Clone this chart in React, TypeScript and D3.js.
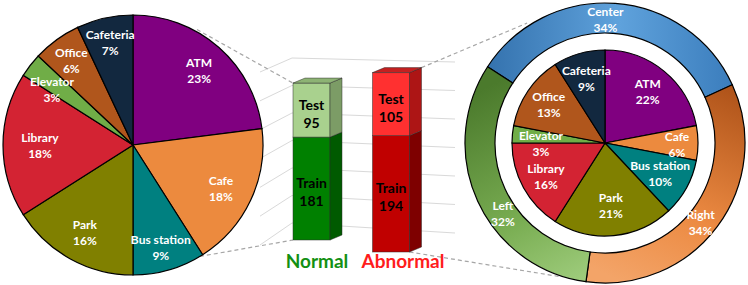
import React from 'react';
import * as d3 from 'd3';

// ---------- data ----------
const categories = ['ATM', 'Cafe', 'Bus station', 'Park', 'Library', 'Elevator', 'Office', 'Cafeteria'];
const normalShares = [23, 18, 9, 16, 18, 3, 6, 7];
const abnormalShares = [22, 6, 10, 21, 16, 3, 13, 9];
const positions = ['Center', 'Right', 'Left'];
const positionShares = [34, 34, 32];
const classes = ['Normal', 'Abnormal'];
const trainCounts = [181, 194];
const testCounts = [95, 105];
const stackNames = ['Train', 'Test'];
const gridTicks = [0, 50, 100, 150, 200, 250, 300];

// ---------- styles / label placement ----------
const catColors = ['#800080', '#ec8a3e', '#008080', '#808000', '#d32333', '#70ad47', '#b0561c', '#12283f'];
const trainFront = ['#008000', '#c00000'];
const trainSide = ['#005a00', '#7e0000'];
const testFront = ['#a9d18e', '#ff3030'];
const testSide = ['#7c9c66', '#ad1515'];
const testTop = ['#8db374', '#c42020'];
const classColors = ['#139013', '#ff1c1c'];
const FONT = 'Lato, "Open Sans", sans-serif';
const leftLabelR = [100, 98, 106, 100, 93, 98, 105, 105];
const leftLabelShift = [0, 1, 1, 0, 0, -3.6, 0, 0];
const rightLabelR = [67, 72, 63, 63, 68, 64, 68, 67];
const rightLabelShift = [0, 1, 0, 0, -1, -6, 0, 0];
const ringLabelShift = [-4, 3, -10];

const W = 748, H = 285;
const deg = Math.PI / 180;

function PieLabel({ x, y, name, value, size = 12 }: any) {
  return (
    <text textAnchor="middle" fill="#fff" fontWeight="bold" fontSize={size} fontFamily={FONT}>
      <tspan x={x} y={y - 3.5}>{name}</tspan>
      <tspan x={x} y={y + 12.5}>{value}%</tspan>
    </text>
  );
}

function labelPos(a: any, r: number, shiftDeg: number) {
  const m = (a.startAngle + a.endAngle) / 2 + shiftDeg * deg;
  return [r * Math.sin(m), -r * Math.cos(m)];
}

export default function App() {
  // left pie
  const LC = [133, 145], LR = 130;
  const pie = d3.pie<number>().sort(null).value(d => d);
  const leftArcs = pie(normalShares);
  const leftArc = d3.arc<any>().innerRadius(0).outerRadius(LR);

  // right pie + ring
  const RC = [605, 143], RR = 93, ringIn = 110, ringOut = 140;
  const rightArcs = pie(abnormalShares);
  const rightArc = d3.arc<any>().innerRadius(0).outerRadius(RR);
  const ringStart = -57 * deg;
  const ringArcs = d3.pie<number>().sort(null).value(d => d).startAngle(ringStart).endAngle(ringStart + 2 * Math.PI)(positionShares);
  const ringArc = d3.arc<any>().innerRadius(ringIn).outerRadius(ringOut);
  const ringFills = ['url(#gCenter)', 'url(#gRight)', 'url(#gLeft)'];

  // bars
  const xCenter = d3.scalePoint<string>().domain(classes).range([311.5, 391]);
  const xLabel = d3.scalePoint<string>().domain(classes).range([317, 403]);
  const barW = 37;
  const depth = [12, -5];
  const yScales = [
    d3.scaleLinear().domain([0, 350]).range([240, 41]),
    d3.scaleLinear().domain([0, 350]).range([252, 42]),
  ];

  // perspective gridlines
  const gFront = d3.scaleLinear().domain([0, 300]).range([245, 72]);
  const gCorner = d3.scaleLinear().domain([0, 300]).range([223, 58]);
  const gBack = d3.scaleLinear().domain([0, 300]).range([233, 62]);
  const gx = [260, 292, 455];
  const line = d3.line<[number, number]>();

  // connectors
  const polar = (c: number[], r: number, a: number) => [c[0] + r * Math.sin(a * deg), c[1] - r * Math.cos(a * deg)];
  const nx0 = xCenter('Normal')! - barW / 2;
  const ax1 = xCenter('Abnormal')! + barW / 2;
  const nTop = yScales[0](trainCounts[0] + testCounts[0]);
  const nBot = yScales[0](0);
  const aTop = yScales[1](trainCounts[1] + testCounts[1]);
  const aBot = yScales[1](0);
  const connectors = [
    [polar(LC, LR + 2, 29), [nx0, nTop]],
    [polar(LC, LR, 149), [nx0, nBot]],
    [[ax1 + depth[0], aTop + depth[1]], polar(RC, ringOut + 3, -33)],
    [[ax1, aBot], polar(RC, ringOut + 1, 198.5)],
  ];

  return (
    <svg width={W} height={H} style={{ position: 'absolute', left: 0, top: 0, background: '#fff' }}>
      <defs>
        <linearGradient id="gCenter" gradientUnits="userSpaceOnUse" x1={-140} y1={0} x2={140} y2={0}>
          <stop offset="0" stopColor="#2d6aa6" />
          <stop offset="0.55" stopColor="#5fa2dc" />
          <stop offset="1" stopColor="#3779b9" />
        </linearGradient>
        <linearGradient id="gRight" gradientUnits="userSpaceOnUse" x1={110} y1={-60} x2={20} y2={140}>
          <stop offset="0" stopColor="#b0541a" />
          <stop offset="0.6" stopColor="#ec8a42" />
          <stop offset="1" stopColor="#f3a468" />
        </linearGradient>
        <linearGradient id="gLeft" gradientUnits="userSpaceOnUse" x1={-110} y1={-60} x2={-10} y2={140}>
          <stop offset="0" stopColor="#4b7a2c" />
          <stop offset="0.6" stopColor="#79ad52" />
          <stop offset="1" stopColor="#a2cf80" />
        </linearGradient>
      </defs>

      {/* gridlines */}
      <g stroke="#d9d9d9" strokeWidth={1} fill="none">
        {gridTicks.map(t => (
          <path key={t} d={line([[gx[0], gFront(t)], [gx[1], gCorner(t)], [gx[2], gBack(t)]])!} />
        ))}
      </g>

      {/* connectors */}
      <g stroke="#a6a6a6" strokeWidth={1.2} strokeDasharray="4,3" fill="none">
        {connectors.map((c, i) => (
          <path key={i} d={line(c as any)!} />
        ))}
      </g>

      {/* left pie */}
      <g transform={`translate(${LC[0]},${LC[1]})`}>
        {leftArcs.map((a, i) => (
          <path key={i} d={leftArc(a)!} fill={catColors[i]} stroke="#000" strokeWidth={1.2} />
        ))}
        {leftArcs.map((a, i) => {
          const [x, y] = labelPos(a, leftLabelR[i], leftLabelShift[i]);
          return <PieLabel key={i} x={x} y={y} name={categories[i]} value={normalShares[i]} />;
        })}
      </g>

      {/* bars */}
      {classes.map((c, i) => {
        const y = yScales[i];
        const x0 = xCenter(c)! - barW / 2;
        const x1 = x0 + barW;
        const [dx, dy] = depth;
        const segs = [
          { v0: 0, v1: trainCounts[i], front: trainFront[i], side: trainSide[i], name: stackNames[0], val: trainCounts[i] },
          { v0: trainCounts[i], v1: trainCounts[i] + testCounts[i], front: testFront[i], side: testSide[i], name: stackNames[1], val: testCounts[i] },
        ];
        const topY = y(trainCounts[i] + testCounts[i]);
        return (
          <g key={c}>
            {segs.map((s, j) => {
              const yb = y(s.v0), yt = y(s.v1);
              return (
                <g key={j} stroke="#2a2a2a" strokeWidth={0.8} strokeOpacity={0.6}>
                  <rect x={x0} y={yt} width={barW} height={yb - yt} fill={s.front} />
                  <path d={`M${x1},${yt}L${x1 + dx},${yt + dy}L${x1 + dx},${yb + dy}L${x1},${yb}Z`} fill={s.side} />
                </g>
              );
            })}
            <path d={`M${x0},${topY}L${x0 + dx},${topY + dy}L${x1 + dx},${topY + dy}L${x1},${topY}Z`}
              fill={testTop[i]} stroke="#2a2a2a" strokeWidth={0.8} strokeOpacity={0.6} />
            {segs.map((s, j) => {
              const cy = (y(s.v0) + y(s.v1)) / 2;
              const cx = (x0 + x1) / 2;
              return (
                <text key={'t' + j} textAnchor="middle" fontFamily={FONT} fontWeight="bold" fontSize={14} fill="#000">
                  <tspan x={cx} y={cy - 0.5}>{s.name}</tspan>
                  <tspan x={cx} y={cy + 17.5}>{s.val}</tspan>
                </text>
              );
            })}
            <text x={xLabel(c)!} y={268} textAnchor="middle" fontFamily={FONT} fontWeight="bold" fontSize={19}
              fill={classColors[i]}>{c}</text>
          </g>
        );
      })}

      {/* right ring + pie */}
      <g transform={`translate(${RC[0]},${RC[1]})`}>
        {ringArcs.map((a, i) => (
          <path key={i} d={ringArc(a)!} fill={ringFills[i]} stroke="#000" strokeWidth={1.2} />
        ))}
        {rightArcs.map((a, i) => (
          <path key={i} d={rightArc(a)!} fill={catColors[i]} stroke="#000" strokeWidth={1.2} />
        ))}
        {ringArcs.map((a, i) => {
          const [x, y] = labelPos(a, 124, ringLabelShift[i]);
          return <PieLabel key={i} x={x} y={y} name={positions[i]} value={positionShares[i]} />;
        })}
        {rightArcs.map((a, i) => {
          const [x, y] = labelPos(a, rightLabelR[i], rightLabelShift[i]);
          return <PieLabel key={i} x={x} y={y} name={categories[i]} value={abnormalShares[i]} />;
        })}
      </g>
    </svg>
  );
}
